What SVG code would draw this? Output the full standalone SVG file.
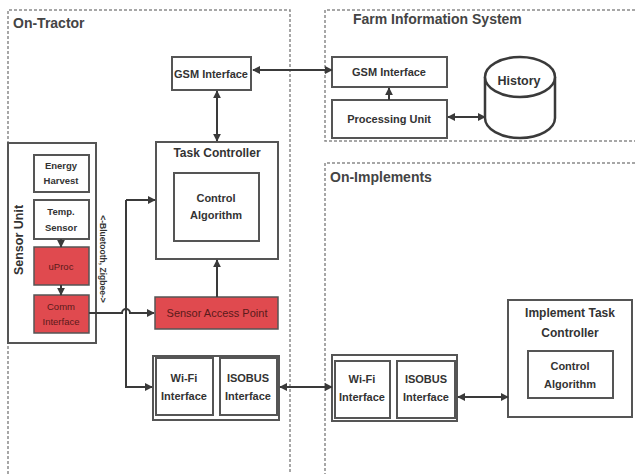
<svg xmlns="http://www.w3.org/2000/svg" width="635" height="474" viewBox="0 0 635 474">
<defs>
<marker id="ah" viewBox="0 0 10 10" refX="9" refY="5" markerWidth="8" markerHeight="8" markerUnits="userSpaceOnUse" orient="auto-start-reverse">
<path d="M0,0 L10,5 L0,10 z" fill="#3a3a3a"/>
</marker>
<style>
.zone{fill:none;stroke:#8a8a8a;stroke-width:1.5;stroke-dasharray:3 2}
.box{fill:#fff;stroke:#555;stroke-width:2}
.red{fill:#e04a4f;stroke:#555;stroke-width:1.5}
.t{font-family:"Liberation Sans Narrow","Liberation Sans",Arial,sans-serif;font-weight:bold;fill:#333;text-anchor:middle}
.s{font-size:11px}
.xs{font-size:9.5px}
.h{font-family:"Liberation Sans",Arial,sans-serif;font-weight:bold;fill:#444;font-size:14px}
.c{fill:none;stroke:#3a3a3a;stroke-width:2}
</style>
</defs>
<rect width="635" height="474" fill="#fff"/>
<g id="zones">
<path class="zone" d="M8,474 V10 H290 V474"/>
<path class="zone" d="M635,10 H325 V141 H635"/>
<path class="zone" d="M635,163 H325 V474"/>
<text class="h" x="13" y="28" font-size="15">On-Tractor</text>
<text class="h" x="353" y="24">Farm Information System</text>
<text class="h" x="330" y="182">On-Implements</text>
</g>
<g id="gsm-tractor"><rect class="box" x="172" y="57" width="79" height="33"/><text class="t s" x="211" y="78">GSM Interface</text></g>
<g id="gsm-farm"><rect class="box" x="332" y="57" width="115" height="30"/><text class="t s" x="389" y="76">GSM Interface</text></g>
<g id="processing-unit"><rect class="box" x="332" y="100" width="115" height="38"/><text class="t s" x="389" y="123">Processing Unit</text></g>
<g id="history">
<path d="M485,77 V118 A35,20 0 0 0 555,118 V77" fill="#fff" stroke="#3a3a3a" stroke-width="2.5"/>
<ellipse cx="520" cy="77" rx="35" ry="20" fill="#fff" stroke="#3a3a3a" stroke-width="2.5"/>
<text class="t" x="519" y="85" font-size="12.5">History</text>
</g>
<g id="task-controller">
<rect class="box" x="156" y="142" width="122" height="117"/>
<text class="t" x="217" y="157" font-size="12">Task Controller</text>
</g>
<g id="control-algorithm"><rect class="box" x="174" y="173" width="85" height="68"/><text class="t s" x="216" y="202">Control</text><text class="t s" x="216" y="219">Algorithm</text></g>
<g id="sensor-unit">
<rect class="box" x="8" y="143" width="88" height="200"/>
<text class="t" transform="translate(23,240) rotate(-90)" font-size="12.5">Sensor Unit</text>
</g>
<g id="energy-harvest"><rect class="box" x="34" y="155" width="55" height="37"/><text class="t xs" x="61" y="169">Energy</text><text class="t xs" x="61" y="184">Harvest</text></g>
<g id="temp-sensor"><rect class="box" x="34" y="200" width="55" height="39"/><text class="t xs" x="61" y="215">Temp.</text><text class="t xs" x="61" y="231">Sensor</text></g>
<g id="uproc"><rect class="red" x="34" y="247" width="55" height="38"/><text class="t xs" x="61" y="270" style="fill:#5a1a1a;font-weight:normal">uProc</text></g>
<g id="comm-interface"><rect class="red" x="34" y="295" width="55" height="38"/><text class="t xs" x="61" y="310" style="fill:#5a1a1a;font-weight:normal">Comm</text><text class="t xs" x="61" y="325" style="fill:#5a1a1a;font-weight:normal">Interface</text></g>
<g id="bt-label"><text class="t" transform="translate(100,259) rotate(90)" font-size="8.5">&lt;-Bluetooth, Zigbee-&gt;</text></g>
<g id="sensor-access-point"><rect class="red" x="155" y="297" width="123" height="32"/><text class="t s" x="217" y="317" style="fill:#5a1a1a;font-weight:normal">Sensor Access Point</text></g>
<g id="tractor-interfaces">
<rect class="box" x="153" y="356" width="126" height="64"/>
<rect class="box" x="156" y="358" width="57" height="57"/>
<rect class="box" x="220" y="358" width="57" height="57"/>
<text class="t s" x="184" y="382">Wi-Fi</text><text class="t s" x="184" y="400">Interface</text>
<text class="t s" x="248" y="382">ISOBUS</text><text class="t s" x="248" y="400">Interface</text>
</g>
<g id="implement-interfaces">
<rect class="box" x="332" y="355" width="125" height="66"/>
<rect class="box" x="335" y="361" width="55" height="57"/>
<rect class="box" x="397" y="361" width="58" height="57"/>
<text class="t s" x="362" y="383">Wi-Fi</text><text class="t s" x="362" y="401">Interface</text>
<text class="t s" x="426" y="383">ISOBUS</text><text class="t s" x="426" y="401">Interface</text>
</g>
<g id="implement-task-controller">
<rect class="box" x="508" y="300" width="124" height="117"/>
<text class="t" x="570" y="317" font-size="12">Implement Task</text>
<text class="t" x="570" y="337" font-size="12">Controller</text>
</g>
<g id="impl-control-algorithm"><rect class="box" x="528" y="351" width="85" height="47"/><text class="t s" x="570" y="370">Control</text><text class="t s" x="570" y="388">Algorithm</text></g>
<g id="connectors">
<line class="c" x1="253" y1="70" x2="332" y2="70" marker-start="url(#ah)" marker-end="url(#ah)"/>
<line class="c" x1="389" y1="100" x2="389" y2="88" marker-end="url(#ah)"/>
<line class="c" x1="448" y1="117" x2="485" y2="117" marker-start="url(#ah)" marker-end="url(#ah)"/>
<line class="c" x1="217" y1="91" x2="217" y2="141" marker-start="url(#ah)" marker-end="url(#ah)"/>
<line class="c" x1="61" y1="239" x2="61" y2="247" marker-end="url(#ah)"/>
<line class="c" x1="61" y1="285" x2="61" y2="295" marker-end="url(#ah)"/>
<path class="c" d="M126,200 H155" marker-end="url(#ah)"/>
<path class="c" d="M126,200 V387 H152" marker-end="url(#ah)"/>
<path class="c" d="M89,313 H122 A4,4 0 0 1 130,313 H154" marker-end="url(#ah)"/>
<line class="c" x1="217" y1="297" x2="217" y2="260" marker-end="url(#ah)"/>
<line class="c" x1="280" y1="387" x2="332" y2="387" marker-start="url(#ah)" marker-end="url(#ah)"/>
<line class="c" x1="458" y1="397" x2="508" y2="397" marker-start="url(#ah)" marker-end="url(#ah)"/>
</g>
</svg>
